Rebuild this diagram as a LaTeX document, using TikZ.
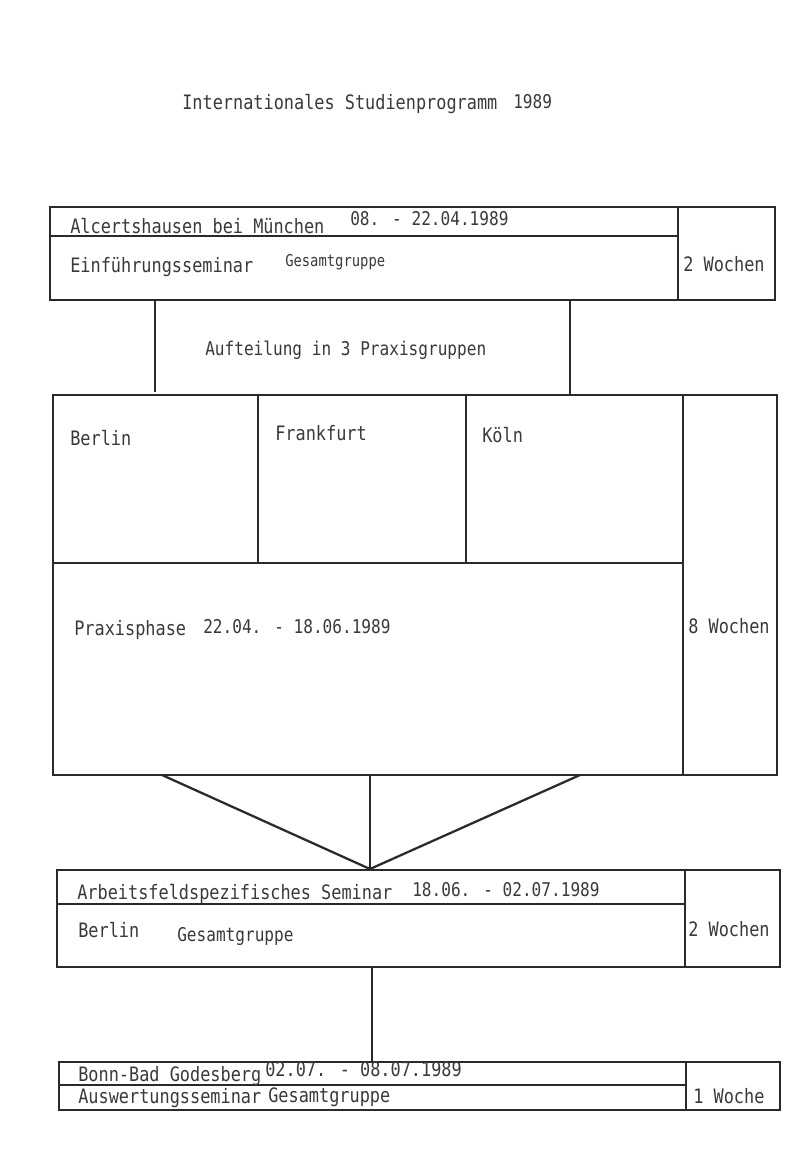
\documentclass[tikz,border=0pt]{standalone}
\usepackage{fontspec}
\newfontfamily\tw[FakeStretch=0.85]{DejaVu Sans Mono}
\definecolor{ink}{HTML}{2A2A2A}
\definecolor{txtc}{HTML}{3A3A3A}
\begin{document}
\begin{tikzpicture}[x=0.75pt,y=-0.75pt,
  frame/.style={draw=ink,line width=1.3pt},
  conn/.style={draw=ink,line width=1.2pt},
  vconn/.style={draw=ink,line width=1.7pt},
  tA/.style={anchor=base west,inner sep=0pt,text=txtc,font=\tw\fontsize{14.9}{16}\selectfont},
  tB/.style={anchor=base west,inner sep=0pt,text=txtc,font=\tw\fontsize{14.2}{16}\selectfont},
  tC/.style={anchor=base west,inner sep=0pt,text=txtc,font=\tw\fontsize{12.2}{14}\selectfont}]
\useasboundingbox[fill=white] (0,0) rectangle (806,1158);

% title
\node[tA] (title) at (182,109) {Internationales Studienprogramm};
\node[tB] (titley) at (513,108) {1989};

% ---- box 1
\coordinate (b1tl) at (50,207);
\coordinate (b1br) at (775,300);
\draw[frame] (b1tl) rectangle (b1br);
\draw[frame] (50,236) -- (678,236);
\draw[frame] (678,207) -- (678,300);
\node[tA] (alc) at (70,233) {Alcertshausen bei München};
\node[tB] (d1) at (350,225) {08. - 22.04.1989};
\node[tA] (einf) at (70,272) {Einführungsseminar};
\node[tC] (ges1) at (285,266) {Gesamtgruppe};
\node[tA] (w1) at (683,271) {2 Wochen};

% split connectors
\coordinate (s1a) at (155,300);
\coordinate (s1b) at (155,392);
\coordinate (s2a) at (570,300);
\coordinate (s2b) at (570,395);
\draw[conn] (s1a) -- (s1b);
\draw[conn] (s2a) -- (s2b);
\node[tB] (auf) at (205,355) {Aufteilung in 3 Praxisgruppen};

% ---- box 2
\coordinate (b2tl) at (53,395);
\coordinate (b2br) at (777,775);
\draw[frame] (b2tl) rectangle (b2br);
\draw[frame] (683,395) -- (683,775);
\draw[frame] (53,563) -- (683,563);
\draw[frame] (258,395) -- (258,563);
\draw[frame] (466,395) -- (466,563);
\node[tA] (ber) at (70,445) {Berlin};
\node[tA] (fra) at (275,440) {Frankfurt};
\node[tA] (koe) at (482,442) {Köln};
\node[tA] (prax) at (74,635) {Praxisphase};
\node[tB] (d2) at (203,633) {22.04. - 18.06.1989};
\node[tA] (w2) at (688,633) {8 Wochen};

% merge connectors
\coordinate (m1) at (162,775);
\coordinate (m2) at (370,775);
\coordinate (m3) at (580,775);
\coordinate (mp) at (370,869);
\draw[vconn] (m1) -- (mp);
\draw[conn] (m2) -- (mp);
\draw[vconn] (m3) -- (mp);

% ---- box 3
\coordinate (b3tl) at (57,870);
\coordinate (b3br) at (780,967);
\draw[frame] (b3tl) rectangle (b3br);
\draw[frame] (57,904) -- (685,904);
\draw[frame] (685,870) -- (685,967);
\node[tA] (arb) at (77,899) {Arbeitsfeldspezifisches Seminar};
\node[tB] (d3) at (412,896) {18.06. - 02.07.1989};
\node[tA] (ber3) at (78,937) {Berlin};
\node[tB] (ges3) at (177,941) {Gesamtgruppe};
\node[tA] (w3) at (688,936) {2 Wochen};

% connector
\coordinate (c4a) at (372,967);
\coordinate (c4b) at (372,1062);
\draw[conn] (c4a) -- (c4b);

% ---- box 4
\coordinate (b4tl) at (59,1062);
\coordinate (b4br) at (780,1110);
\draw[frame] (b4tl) rectangle (b4br);
\draw[frame] (59,1085) -- (686,1085);
\draw[frame] (686,1062) -- (686,1110);
\node[tA] (bonn) at (78,1081) {Bonn-Bad Godesberg};
\node[tA] (d4) at (265,1076) {02.07. - 08.07.1989};
\node[tA] (ausw) at (78,1103) {Auswertungsseminar};
\node[tA] (ges4) at (268,1102) {Gesamtgruppe};
\node[tA] (w4) at (693,1103) {1 Woche};
\end{tikzpicture}
\end{document}
